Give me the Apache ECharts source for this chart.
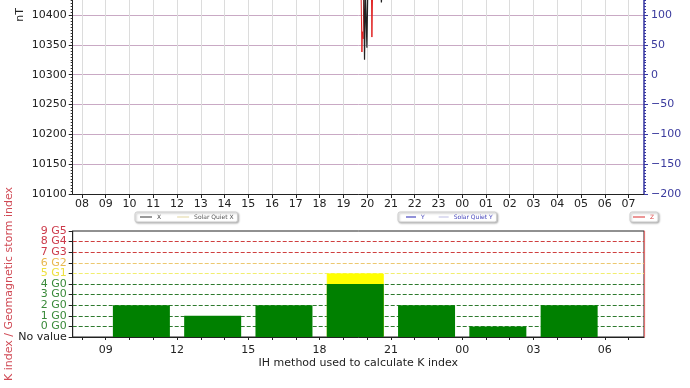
<!DOCTYPE html>
<html><head><meta charset="utf-8">
<script src="https://cdn.jsdelivr.net/npm/echarts@6/dist/echarts.min.js"></script>
<style>html,body{margin:0;padding:0;background:#fff}#c{width:690px;height:388px}</style>
</head><body><div id="c"></div>
<script>
// ---- data (hours since 00:00 of first day; >24 = next day) ----
const hourTicks = [8,9,10,11,12,13,14,15,16,17,18,19,20,21,22,23,24,25,26,27,28,29,30,31];
const kHourLabels = [9,12,15,18,21,24,27,30];
const kLabels = ['No value','0 G0','1 G0','2 G0','3 G0','4 G0','5 G1','6 G2','7 G3','8 G4','9 G5'];

const xTimes  = [7.61, 10, 13, 16, 19, 19.6, 19.75, 19.86, 19.89, 19.93, 19.99, 20.03, 20.3, 20.58, 20.6, 20.63, 21, 24, 27, 31.65];
const xValues = [10520, 10522, 10518, 10516, 10512, 10495, 10470, 10440, 10325, 10440, 10345, 10450, 10470, 10440, 10421, 10445, 10480, 10505, 10515, 10520];

const sqxTimes  = [7.61, 12, 16, 20, 24, 28, 31.65];
const sqxValues = [10515, 10505, 10508, 10512, 10518, 10520, 10516];

const zTimes  = [7.61, 12, 16, 19.5, 19.74, 19.78, 19.8, 19.83, 19.87, 20.1, 20.18, 20.2, 20.23, 20.6, 24, 28, 31.65];
const zValues = [10520, 10515, 10512, 10500, 10450, 10338, 10372, 10360, 10450, 10470, 10445, 10363, 10440, 10480, 10505, 10512, 10518];

const yTimes  = [7.61, 12, 16, 19.5, 19.8, 19.9, 20.0, 20.2, 20.6, 24, 28, 31.65];
const yValues = [205, 210, 208, 200, 175, 160, 185, 170, 190, 200, 204, 206];

const sqyTimes  = [7.61, 12, 16, 20, 24, 28, 31.65];
const sqyValues = [202, 206, 210, 205, 200, 201, 203];

const kBinCenters = [10.5, 13.5, 16.5, 19.5, 22.5, 25.5, 28.5];
const kIndex      = [2, 1, 2, 4, 2, 0, 2];
const kIndexUpper = [null, null, null, 5, null, null, null];

// ---- helpers ----
const pad = h => String(((h % 24) + 24) % 24).padStart(2, '0');
const zip = (t, v) => t.map((x, i) => [x, v[i]]);
const kColors = ['#222222','#3a8a3a','#3a8a3a','#3a8a3a','#3a8a3a','#3a8a3a','#eee040','#e8b850','#cc3a4a','#cc3a4a','#cc3a4a'];
const kLineColors = ['rgba(0,0,0,0)','#2f7a2f','#2f7a2f','#2f7a2f','#2f7a2f','#2f7a2f','#f2ee70','#ecc870','#cf4040','#cf4040','rgba(0,0,0,0)'];
const kEven = [0, 2, 4, 6, 8, 10];
const kOdd = [1, 3, 5, 7, 9];

const X0 = 7.61, X1 = 31.65;
const font = 'DejaVu Sans';
const legendBox = {textStyle: {fontSize: 6, fontFamily: font}, icon: 'rect', itemHeight: 1.2,
  borderColor: '#ccc', borderWidth: 1, borderRadius: 2, backgroundColor: '#fff',
  shadowColor: 'rgba(0,0,0,0.3)', shadowBlur: 2, shadowOffsetX: 1, shadowOffsetY: 1};
const kLabelStyle = vals => ({customValues: vals, margin: 6, fontSize: 11, hideOverlap: false,
  color: v => kColors[Math.round(v)], formatter: v => kLabels[Math.round(v)]});

const chart = echarts.init(document.getElementById('c'), null, {renderer: 'canvas'});
chart.setOption({
  animation: false,
  textStyle: {fontFamily: font},
  grid: [
    {left: 72.7, right: 46, top: -164, height: 358, outerBoundsMode: 'none', containLabel: false},
    {left: 72.7, right: 46, top: 231, height: 106, show: true, borderColor: '#222', borderWidth: 1,
     outerBoundsMode: 'none', containLabel: false}
  ],
  legend: [
    Object.assign({}, legendBox, {data: [{name: 'X', textStyle: {color: '#444'}}, {name: 'Solar Quiet X', textStyle: {color: '#555'}}],
     left: 135, top: 212, itemWidth: 12, itemGap: 16, padding: [2, 4, 2, 5]}),
    Object.assign({}, legendBox, {data: [{name: 'Y', textStyle: {color: '#4444bb'}}, {name: 'Solar Quiet Y', textStyle: {color: '#4444bb'}}],
     left: 398, top: 212, itemWidth: 10, itemGap: 14, padding: [2, 4, 2, 8]}),
    Object.assign({}, legendBox, {data: [{name: 'Z', textStyle: {color: '#dd4444'}}],
     left: 630, top: 212, itemWidth: 12, padding: [2, 4, 2, 3]})
  ],
  xAxis: [
    {type: 'value', gridIndex: 0, min: X0, max: X1,
     axisLine: {onZero: false, lineStyle: {color: '#222', width: 1}},
     axisTick: {customValues: hourTicks, length: 4, lineStyle: {color: '#222'}},
     axisLabel: {customValues: hourTicks, formatter: v => pad(v), fontSize: 11, color: '#222', margin: 5},
     splitLine: {show: true, lineStyle: {color: '#dcdcdc', width: 1}}},
    {type: 'value', gridIndex: 1, min: X0, max: X1,
     axisLine: {onZero: false, lineStyle: {color: '#222', width: 1}},
     axisTick: {customValues: hourTicks, length: 3, lineStyle: {color: '#222'}},
     axisLabel: {customValues: kHourLabels, formatter: v => pad(v), fontSize: 11, color: '#222', margin: 8},
     splitLine: {show: false},
     name: 'IH method used to calculate K index', nameLocation: 'middle', nameGap: 21, nameMoveOverlap: false,
     nameTextStyle: {fontSize: 11, color: '#222'}}
  ],
  yAxis: [
    {type: 'value', gridIndex: 0, min: 10100, max: 10700, interval: 50,
     axisLine: {show: true, onZero: false, lineStyle: {color: '#222'}},
     axisTick: {show: true, length: 4, lineStyle: {color: '#222'}},
     minorTick: {show: true, splitNumber: 10, length: 2, lineStyle: {color: '#333'}},
     axisLabel: {fontSize: 11, color: '#222', margin: 6, formatter: v => String(v)},
     splitLine: {show: true, lineStyle: {color: '#c9a9c4', width: 1}},
     name: 'nT', nameLocation: 'middle', nameGap: 47, nameRotate: 90, nameMoveOverlap: false,
     nameTextStyle: {fontSize: 11, color: '#222'}},
    {type: 'value', gridIndex: 0, min: -200, max: 400, interval: 50, position: 'right',
     axisLine: {show: true, onZero: false, lineStyle: {color: '#3535a0', width: 1.5}},
     axisTick: {show: true, length: 4, lineStyle: {color: '#3535a0'}},
     minorTick: {show: true, splitNumber: 10, length: 2, lineStyle: {color: '#3535a0'}},
     axisLabel: {fontSize: 11, color: '#3b3b9e', margin: 7, formatter: v => String(v).replace('-', '\u2212')},
     splitLine: {show: false}},
    {type: 'value', gridIndex: 1, min: 0, max: 10, interval: 1, position: 'left',
     axisLine: {show: true, onZero: false, lineStyle: {color: '#222'}},
     axisTick: {show: true, length: 4, lineStyle: {color: '#222'}},
     axisLabel: kLabelStyle(kEven),
     splitLine: {show: true, showMinLine: true, showMaxLine: true,
                 lineStyle: {color: kLineColors, type: [4, 2], width: 1.2}},
     name: 'K index / Geomagnetic storm index', nameLocation: 'middle', nameGap: 58, nameRotate: 90, nameMoveOverlap: false,
     nameTextStyle: {fontSize: 11, color: '#d04a55'}},
    {type: 'value', gridIndex: 1, min: 0, max: 10, position: 'right',
     axisLine: {show: true, onZero: false, lineStyle: {color: '#e07070', width: 1.2}},
     axisTick: {show: false}, axisLabel: {show: false}, splitLine: {show: false}},
    {type: 'value', gridIndex: 1, min: 0, max: 10, interval: 1, position: 'left', offset: 0,
     axisLine: {show: false, onZero: false}, axisTick: {show: false}, splitLine: {show: false},
     axisLabel: kLabelStyle(kOdd)}
  ],
  series: [
    {name: 'Solar Quiet X', type: 'line', xAxisIndex: 0, yAxisIndex: 0, data: zip(sqxTimes, sqxValues),
     showSymbol: false, lineStyle: {color: '#e6dcb0', width: 1}, itemStyle: {color: '#e6dcb0'}},
    {name: 'Solar Quiet Y', type: 'line', xAxisIndex: 0, yAxisIndex: 1, data: zip(sqyTimes, sqyValues),
     showSymbol: false, lineStyle: {color: '#c8c8e8', width: 1}, itemStyle: {color: '#c8c8e8'}},
    {name: 'Y', type: 'line', xAxisIndex: 0, yAxisIndex: 1, data: zip(yTimes, yValues),
     showSymbol: false, lineStyle: {color: '#4848c0', width: 1}, itemStyle: {color: '#4848c0'}},
    {name: 'Z', type: 'line', xAxisIndex: 0, yAxisIndex: 0, data: zip(zTimes, zValues),
     showSymbol: false, lineStyle: {color: '#e02020', width: 1}, itemStyle: {color: '#e05050'}},
    {name: 'X', type: 'line', xAxisIndex: 0, yAxisIndex: 0, data: zip(xTimes, xValues),
     showSymbol: false, lineStyle: {color: '#222', width: 1.2}, itemStyle: {color: '#555'}},
    {name: 'K upper', type: 'bar', xAxisIndex: 1, yAxisIndex: 2, barWidth: 57, barGap: '-100%',
     data: kBinCenters.map((c, i) => kIndexUpper[i] == null ? null : [c, kIndexUpper[i] + 1]),
     itemStyle: {color: '#ffff00', borderColor: '#ffff00', borderWidth: 1}},
    {name: 'K index', type: 'bar', xAxisIndex: 1, yAxisIndex: 2, barWidth: 57, barGap: '-100%',
     data: kBinCenters.map((c, i) => kIndex[i] == null ? null : [c, kIndex[i] + 1]),
     itemStyle: {color: '#008000'}}
  ]
});
</script></body></html>
